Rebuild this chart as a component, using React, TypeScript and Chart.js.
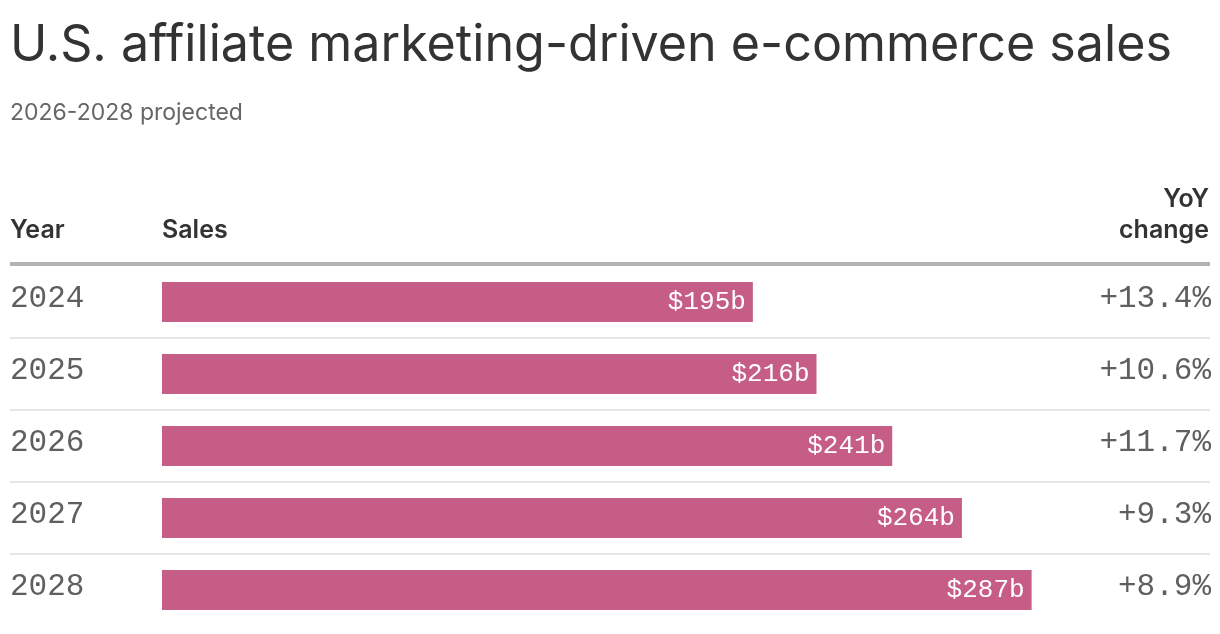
import React, { useEffect, useRef } from "react";
import { Chart, registerables } from "chart.js";

Chart.register(...registerables);

// Sales in billions of dollars, one entry per year
const years = ["2024", "2025", "2026", "2027", "2028"];
const sales = [195, 216, 241, 264, 287];
const yoyChange = [13.4, 10.6, 11.7, 9.3, 8.9];

const TITLE = "U.S. affiliate marketing-driven e-commerce sales";
const SUBTITLE = "2026-2028 projected";
const HEADER_YEAR = "Year";
const HEADER_SALES = "Sales";
const HEADER_YOY = ["YoY", "change"];

const SANS = "Inter, 'Noto Sans', sans-serif";
const MONO = "'Liberation Mono', 'DejaVu Sans Mono', monospace";
const BAR_COLOR = "#c55d87";

// Pick a font size so a line of text spans the given width
function fittedFont(ctx: CanvasRenderingContext2D, text: string, weight: number, base: number, width: number) {
  ctx.font = `${weight} ${base}px ${SANS}`;
  const w = ctx.measureText(text).width;
  const size = base * (width / w);
  return `${weight} ${size.toFixed(2)}px ${SANS}`;
}

const tablePlugin = {
  id: "tableDecor",
  beforeDraw(chart: any) {
    const ctx: CanvasRenderingContext2D = chart.ctx;
    const y = chart.scales.y;
    const left = 10;
    const right = 1210;
    ctx.save();

    // Title and subtitle
    ctx.textBaseline = "alphabetic";
    ctx.textAlign = "left";
    ctx.fillStyle = "#333333";
    ctx.font = fittedFont(ctx, TITLE, 400, 50, 1162);
    ctx.fillText(TITLE, left, 61);
    ctx.fillStyle = "#666666";
    ctx.font = fittedFont(ctx, SUBTITLE, 400, 20, 233);
    ctx.fillText(SUBTITLE, left, 120);

    // Column headers
    ctx.fillStyle = "#333333";
    ctx.font = `600 25px ${SANS}`;
    ctx.fillText(HEADER_YEAR, left, 238);
    ctx.fillText(HEADER_SALES, chart.chartArea.left, 238);
    ctx.textAlign = "right";
    ctx.fillText(HEADER_YOY[0], right - 1, 207);
    ctx.fillText(HEADER_YOY[1], right - 1, 238);

    // Heavy rule under the header
    ctx.fillStyle = "#b3b3b3";
    ctx.fillRect(left, chart.chartArea.top - 4, right - left, 4);

    // Thin rules between rows
    ctx.fillStyle = "#e6e6e6";
    for (let i = 0; i < years.length - 1; i++) {
      const yy = (y.getPixelForValue(i) + y.getPixelForValue(i + 1)) / 2;
      ctx.fillRect(left, Math.round(yy) - 1, right - left, 2);
    }
    ctx.restore();
  },
  afterDatasetsDraw(chart: any) {
    const ctx: CanvasRenderingContext2D = chart.ctx;
    const bars = chart.getDatasetMeta(0).data;
    ctx.save();
    ctx.textBaseline = "middle";
    ctx.textAlign = "right";
    bars.forEach((bar: any, i: number) => {
      ctx.fillStyle = "#ffffff";
      ctx.font = `400 26px ${MONO}`;
      ctx.fillText(`$${sales[i]}b`, bar.x - 7, bar.y);
      ctx.fillStyle = "#5f5f5f";
      ctx.font = `400 31px ${MONO}`;
      ctx.fillText(`+${yoyChange[i].toFixed(1)}%`, 1211, bar.y - 3);
    });
    ctx.restore();
  },
};

export default function App() {
  const ref = useRef<HTMLCanvasElement | null>(null);

  useEffect(() => {
    document.body.style.margin = "0";
    const canvas = ref.current;
    if (!canvas) return;
    const chart = new Chart(canvas, {
      type: "bar",
      data: {
        labels: years,
        datasets: [
          {
            data: sales,
            backgroundColor: BAR_COLOR,
            borderWidth: 0,
            barPercentage: 40 / 72,
            categoryPercentage: 1,
          },
        ],
      },
      options: {
        indexAxis: "y",
        responsive: false,
        animation: false,
        devicePixelRatio: 1,
        layout: { padding: { left: 10, right: 149, top: 266, bottom: 8 } },
        plugins: {
          legend: { display: false },
          tooltip: { enabled: false },
          title: { display: false },
        },
        scales: {
          x: { display: false, min: 0, max: 300 },
          y: {
            afterFit(scale: any) {
              scale.width = 152;
              scale.paddingTop = 0;
              scale.paddingBottom = 0;
            },
            grid: { display: false },
            border: { display: false },
            ticks: {
              crossAlign: "far",
              padding: 0,
              labelOffset: -3,
              color: "#5f5f5f",
              font: { family: MONO, size: 31, weight: "normal" },
            },
          },
        },
      },
      plugins: [tablePlugin],
    });
    return () => chart.destroy();
  }, []);

  return <canvas ref={ref} width={1220} height={634} style={{ display: "block" }} />;
}
